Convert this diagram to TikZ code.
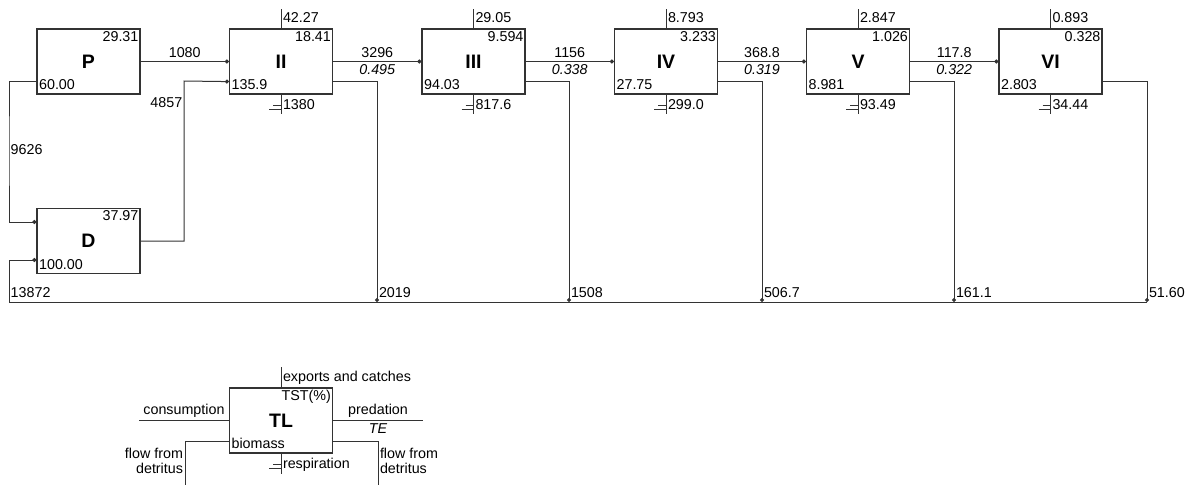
\documentclass[tikz,border=0pt]{standalone}
\usepackage{fontspec}
\setmainfont{Liberation Sans}
\usetikzlibrary{arrows.meta, positioning, calc}

\begin{document}
\begin{tikzpicture}[
  x=1pt, y=-1pt,
  % --- trophic level boxes ---
  tlbox/.style={
    draw=black!80, line width=1.2pt, minimum width=103pt, minimum height=65pt,
    inner sep=0pt, font=\fontsize{19.5}{19.5}\selectfont\bfseries
  },
  % --- values ---
  val/.style={font=\fontsize{14.3}{14.3}\selectfont, inner sep=1.5pt},
  trv/.style={val, anchor=north east, inner xsep=2pt, inner ysep=2.5pt},
  blv/.style={val, anchor=south west, inner xsep=2.5pt, inner ysep=4.5pt},
  expv/.style={val, anchor=north west, inner xsep=1.5pt, inner ysep=3pt},
  respv/.style={val, anchor=north west, inner xsep=1.5pt, inner ysep=4pt},
  fval/.style={val, inner sep=3pt},
  teval/.style={val, inner sep=3pt, font=\fontsize{14.3}{14.3}\selectfont\itshape},
  retv/.style={val, anchor=south west, inner xsep=1.5pt, inner ysep=4pt},
  % --- lines ---
  link/.style={line width=1pt, draw=black!80},
  flow/.style={link, -{Circle[length=4pt]}},
]
\useasboundingbox (0,0) rectangle (1190,485);

% ===================== TROPHIC LEVELS =====================

\node[tlbox] (P) at (88.5,61.5) {P};
\node[tlbox] (II) at (281,61.5) {II};
\node[tlbox] (III) at (473.5,61.5) {III};
\node[tlbox] (IV) at (666,61.5) {IV};
\node[tlbox] (V) at (858,61.5) {V};
\node[tlbox] (VI) at (1050.5,61.5) {VI};
\node[tlbox] (D) at (88.5,241) {D};

% TST(%) and biomass
\node[trv] at (P.north east) {29.31};
\node[blv] at (P.south west) {60.00};
\node[trv] at (II.north east) {18.41};
\node[blv] at (II.south west) {135.9};
\node[trv] at (III.north east) {9.594};
\node[blv] at (III.south west) {94.03};
\node[trv] at (IV.north east) {3.233};
\node[blv] at (IV.south west) {27.75};
\node[trv] at (V.north east) {1.026};
\node[blv] at (V.south west) {8.981};
\node[trv] at (VI.north east) {0.328};
\node[blv] at (VI.south west) {2.803};
\node[trv] at (D.north east) {37.97};
\node[blv] at (D.south west) {100.00};

% exports and catches
\draw[link] (II.north) -- ++(0,-19) node[expv] {42.27};
\draw[link] (III.north) -- ++(0,-19) node[expv] {29.05};
\draw[link] (IV.north) -- ++(0,-19) node[expv] {8.793};
\draw[link] (V.north) -- ++(0,-19) node[expv] {2.847};
\draw[link] (VI.north) -- ++(0,-19) node[expv] {0.893};

% respiration
\draw[link] (II.south) -- ++(0,19) node[pos=0, respv] {1380}
  (II.south) ++(-8,11) -- ++(8,0) ++(-12,4) -- ++(12,0);
\draw[link] (III.south) -- ++(0,19) node[pos=0, respv] {817.6}
  (III.south) ++(-8,11) -- ++(8,0) ++(-12,4) -- ++(12,0);
\draw[link] (IV.south) -- ++(0,19) node[pos=0, respv] {299.0}
  (IV.south) ++(-8,11) -- ++(8,0) ++(-12,4) -- ++(12,0);
\draw[link] (V.south) -- ++(0,19) node[pos=0, respv] {93.49}
  (V.south) ++(-8,11) -- ++(8,0) ++(-12,4) -- ++(12,0);
\draw[link] (VI.south) -- ++(0,19) node[pos=0, respv] {34.44}
  (VI.south) ++(-8,11) -- ++(8,0) ++(-12,4) -- ++(12,0);

% ===================== PREDATION =====================

\draw[flow] (P.east) -- (II.west) node[midway, above, fval] {1080};
\draw[flow] (II.east) -- (III.west)
  node[midway, above, fval] {3296} node[midway, below, teval] {0.495};
\draw[flow] (III.east) -- (IV.west)
  node[midway, above, fval] {1156} node[midway, below, teval] {0.338};
\draw[flow] (IV.east) -- (V.west)
  node[midway, above, fval] {368.8} node[midway, below, teval] {0.319};
\draw[flow] (V.east) -- (VI.west)
  node[midway, above, fval] {117.8} node[midway, below, teval] {0.322};

% ===================== DETRITUS =====================

\coordinate (lft) at (9,150);
\coordinate (dup) at (184,81);
\coordinate (bot) at (9,302);
\coordinate (rII) at (377,302);
\coordinate (rIII) at (569,302);
\coordinate (rIV) at (762,302);
\coordinate (rV) at (954,302);
\coordinate (rVI) at (1147,302);

\draw[flow] ([yshift=13pt]P.south west) -| (lft) |- ([yshift=19pt]D.west);
\node[val, anchor=west] at (lft) {9626};

\draw[flow] (D.east) -| (dup) -- ([yshift=13pt]II.south west);
\node[val, anchor=east] at ([yshift=-22pt]dup) {4857};

% flows to detritus
\draw[flow] ([yshift=13pt]II.south east) -| (rII) node[retv] {2019};
\draw[flow] ([yshift=13pt]III.south east) -| (rIII) node[retv] {1508};
\draw[flow] ([yshift=13pt]IV.south east) -| (rIV) node[retv] {506.7};
\draw[flow] ([yshift=13pt]V.south east) -| (rV) node[retv] {161.1};
\draw[flow] ([yshift=13pt]VI.south east) -| (rVI) node[retv] {51.60};

\draw[flow] (rVI) -- (bot) |- ([yshift=-19pt]D.west);
\node[val, anchor=south west, inner ysep=4pt] at (bot) {13872};

% ===================== LEGEND =====================

\node[tlbox] (TL) at (281,420.5) {TL};
\node[trv] at (TL.north east) {TST(\%)};
\node[blv] at (TL.south west) {biomass};

\draw[link] (TL.north) -- ++(0,-20) node[expv] {exports and catches};
\draw[link] (TL.south) -- ++(0,20) node[pos=0, respv] {respiration}
  (TL.south) ++(-8,11) -- ++(8,0) ++(-12,4) -- ++(12,0);

\coordinate (cin) at (139,420.5);
\coordinate (pout) at (423,420.5);
\draw[link] (cin) -- (TL.west) node[midway, above, fval] {consumption};
\draw[link] (TL.east) -- (pout)
  node[midway, above, fval] {predation} node[midway, below, teval] {TE};

\coordinate (fin) at (185,485);
\coordinate (fout) at (378,485);
\draw[link] ([yshift=12pt]TL.south west) -| (fin)
  node[pos=0.5, val, anchor=north east, align=right, yshift=-5pt] {flow from\\detritus};
\draw[link] ([yshift=12pt]TL.south east) -| (fout)
  node[pos=0.5, val, anchor=north west, align=left, yshift=-5pt] {flow from\\detritus};

\end{tikzpicture}
\end{document}
